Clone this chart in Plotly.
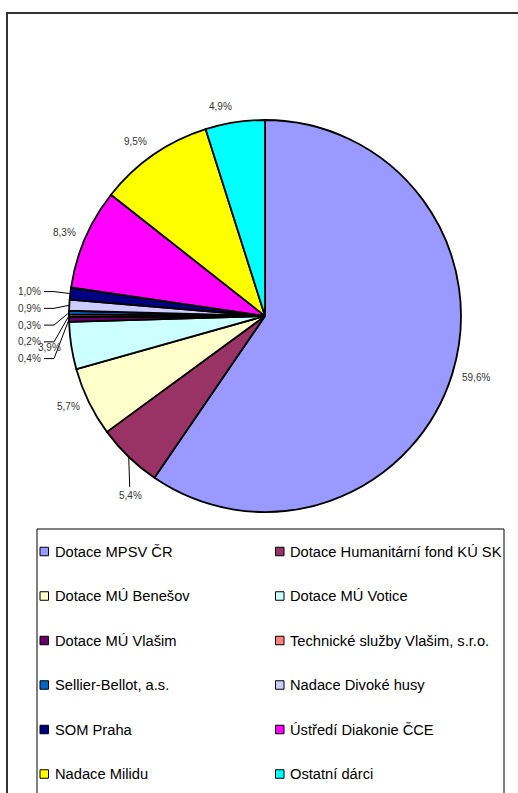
import math
import plotly.graph_objects as go

# ---------------- data ----------------
categories = [
    "Dotace MPSV ČR",
    "Dotace Humanitární fond KÚ SK",
    "Dotace MÚ Benešov",
    "Dotace MÚ Votice",
    "Dotace MÚ Vlašim",
    "Technické služby Vlašim, s.r.o.",
    "Sellier-Bellot, a.s.",
    "Nadace Divoké husy",
    "SOM Praha",
    "Ústředí Diakonie ČCE",
    "Nadace Milidu",
    "Ostatní dárci",
]
shares = [59.6, 5.4, 5.7, 3.9, 0.4, 0.2, 0.3, 0.9, 1.0, 8.3, 9.5, 4.9]
colors = [
    "#9999FF", "#993366", "#FFFFCC", "#CCFFFF", "#660066", "#FF8080",
    "#0066CC", "#CCCCFF", "#000080", "#FF00FF", "#FFFF00", "#00FFFF",
]

# ---------------- layout constants ----------------
W, H = 518, 793
CX, CY, R = 265, 316, 196
FONT = "Arial, 'Liberation Sans', sans-serif"
LABEL_SIZE = 10
LABEL_COLOR = "#333333"
SMALL_SHARE = 1.5          # slices below this get stacked labels with leaders
STACK_GAP = 16.75
DOWN_LEADER = {"Dotace Humanitární fond KÚ SK": 30}


def PX(x):
    return x / W


def PY(y):
    return 1 - y / H


fig = go.Figure()
fig.add_trace(go.Pie(
    labels=categories,
    values=shares,
    sort=False,
    direction="clockwise",
    rotation=0,
    marker=dict(colors=colors, line=dict(color="black", width=1.8)),
    textinfo="none",
    hoverinfo="label+percent",
    showlegend=False,
    domain=dict(x=[(CX - R) / W, (CX + R) / W],
                y=[(H - CY - R) / H, (H - CY + R) / H]),
))


def fmt(v):
    return f"{v:.1f}".replace(".", ",") + "%"


total = sum(shares)
annotations = []
shapes = []

mids = []
cum = 0.0
for v in shares:
    mids.append(2 * math.pi * (cum + v / 2) / total)
    cum += v


def edge(th, r):
    return CX + r * math.sin(th), CY - r * math.cos(th)


def label(x, y, text, xa, size=LABEL_SIZE, color=LABEL_COLOR):
    annotations.append(dict(x=PX(x), y=PY(y), xref="paper", yref="paper",
                            text=text, xanchor=xa, yanchor="middle", showarrow=False,
                            font=dict(size=size, color=color, family=FONT)))


def line_path(pts, color="black", width=1):
    d = "M " + " L ".join(f"{PX(x)},{PY(y)}" for x, y in pts)
    shapes.append(dict(type="path", xref="paper", yref="paper", path=d,
                       line=dict(color=color, width=width)))


small_idx = [i for i, v in enumerate(shares) if v < SMALL_SHARE]
normal_idx = [i for i in range(len(shares)) if i not in small_idx]

for i in normal_idx:
    th = mids[i]
    ex, ey = edge(th, R)
    name = categories[i]
    if name in DOWN_LEADER:
        d = DOWN_LEADER[name]
        line_path([(ex, ey), (ex + 1, ey + d)])
        label(ex + 2, ey + d + 9, fmt(shares[i]), "center")
        continue
    px, py = edge(th, R + 8)
    xa = "left" if math.sin(th) > 0 else "right"
    label(px, py - 9 * max(math.cos(th), 0) + 1, fmt(shares[i]), xa)

# stacked labels for the small slices on the left
if small_idx:
    pts = sorted(((edge(mids[i], R), i) for i in small_idx), key=lambda t: t[0][1])
    elbow_x = min(p[0][0] for p in pts) - 15
    label_x = elbow_x - 11
    prev = None
    for (ex, ey), i in pts:
        y = ey - 2 if prev is None else max(ey, prev + STACK_GAP)
        prev = y
        line_path([(label_x + 1, y), (elbow_x, y), (ex, ey)])
        label(label_x, y, fmt(shares[i]), "right")

# chart frame and legend box
shapes.append(dict(type="rect", xref="paper", yref="paper",
                   x0=PX(7), y0=PY(13), x1=PX(W + 20), y1=PY(H + 20),
                   line=dict(color="#333333", width=2), layer="below"))
LEG_X0, LEG_Y0, LEG_X1 = 37, 529, 504
shapes.append(dict(type="rect", xref="paper", yref="paper",
                   x0=PX(LEG_X0), y0=PY(LEG_Y0), x1=PX(LEG_X1), y1=PY(H + 20),
                   line=dict(color="black", width=1), layer="below"))

# legend: two columns
COL_X = [40, 275.5]
ROW_Y0, ROW_DY = 551.5, 44.5
SQ = 8.5
for k, name in enumerate(categories):
    c, r = k % 2, k // 2
    sx, sy = COL_X[c], ROW_Y0 + r * ROW_DY
    shapes.append(dict(type="rect", xref="paper", yref="paper",
                       x0=PX(sx), y0=PY(sy - SQ / 2), x1=PX(sx + SQ), y1=PY(sy + SQ / 2),
                       fillcolor=colors[k], line=dict(color="black", width=1)))
    label(sx + SQ + 4, sy, name, "left", size=14.7, color="black")

fig.update_layout(
    width=W, height=H,
    margin=dict(l=0, r=0, t=0, b=0),
    paper_bgcolor="white", plot_bgcolor="rgba(0,0,0,0)",
    shapes=shapes,
    annotations=annotations,
    showlegend=False,
    font=dict(family=FONT),
)

fig.write_html("out.html", config={"displayModeBar": False},
               post_script="document.body.style.margin='0';")
